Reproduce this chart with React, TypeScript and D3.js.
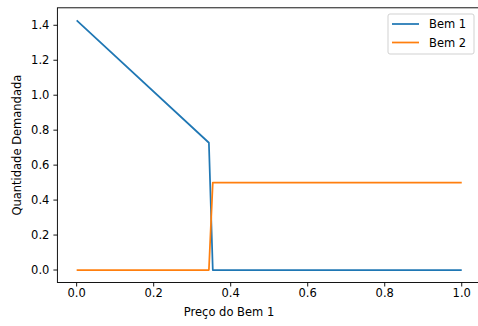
import React from "react";
import * as d3 from "d3";

const priceBlue = [0, 0.3434, 0.3535, 1.0];
const bem1 = [1.4286, 0.728, 0, 0];
const priceOrange = [0, 0.3434, 0.3535, 1.0];
const bem2 = [0, 0, 0.5, 0.5];
const xTicks = [0, 0.2, 0.4, 0.6, 0.8, 1.0];
const yTicks = [0, 0.2, 0.4, 0.6, 0.8, 1.0, 1.2, 1.4];
const seriesNames = ["Bem 1", "Bem 2"];
const colors = ["#1f77b4", "#ff7f0e"];

export default function App() {
  const W = 478, H = 326;
  const left = 57.4, right = 481, top = 7.8, bottom = 282.5;
  const fs = 11.5;
  const x = d3.scaleLinear().domain([-0.05, 1.05]).range([left, right]);
  const y = d3.scaleLinear().domain([-0.0714, 1.5]).range([bottom, top]);
  const line = d3.line<[number, number]>().x(d => x(d[0])).y(d => y(d[1]));
  const d1 = line(priceBlue.map((p, i) => [p, bem1[i]] as [number, number]))!;
  const d2 = line(priceOrange.map((p, i) => [p, bem2[i]] as [number, number]))!;
  const font = "DejaVu Sans, sans-serif";
  return (
    <svg width={W} height={H} style={{ position: "absolute", left: 0, top: 0, background: "#fff" }} fontFamily={font}>
      <rect x={0} y={0} width={W} height={H} fill="#fff" />
      <path d={d1} fill="none" stroke={colors[0]} strokeWidth={1.73} strokeLinejoin="round" strokeLinecap="butt" />
      <path d={d2} fill="none" stroke={colors[1]} strokeWidth={1.73} strokeLinejoin="round" strokeLinecap="butt" />
      <rect x={left} y={top} width={right - left} height={bottom - top} fill="none" stroke="#000" strokeWidth={0.92} />
      {xTicks.map(t => (
        <g key={"x" + t}>
          <line x1={x(t)} x2={x(t)} y1={bottom} y2={bottom + 4} stroke="#000" strokeWidth={0.92} />
          <text x={x(t)} y={297} fontSize={fs} textAnchor="middle">{t.toFixed(1)}</text>
        </g>
      ))}
      {yTicks.map(t => (
        <g key={"y" + t}>
          <line x1={left - 4} x2={left} y1={y(t)} y2={y(t)} stroke="#000" strokeWidth={0.92} />
          <text x={left - 8} y={y(t)} fontSize={fs} textAnchor="end" dominantBaseline="central">{t.toFixed(1)}</text>
        </g>
      ))}
      <text x={229} y={316} fontSize={fs} textAnchor="middle">Preço do Bem 1</text>
      <text transform={`translate(21,${(top + bottom) / 2}) rotate(-90)`} fontSize={fs} textAnchor="middle">Quantidade Demandada</text>
      <g>
        <rect x={388} y={14} width={86} height={40} rx={2} fill="#fff" fillOpacity={0.8} stroke="#ccc" strokeWidth={0.9} />
        {seriesNames.map((n, i) => (
          <g key={n}>
            <line x1={392} x2={419} y1={24 + i * 18.5} y2={24 + i * 18.5} stroke={colors[i]} strokeWidth={1.73} />
            <text x={429} y={24 + i * 18.5} fontSize={fs} dominantBaseline="central">{n}</text>
          </g>
        ))}
      </g>
    </svg>
  );
}
